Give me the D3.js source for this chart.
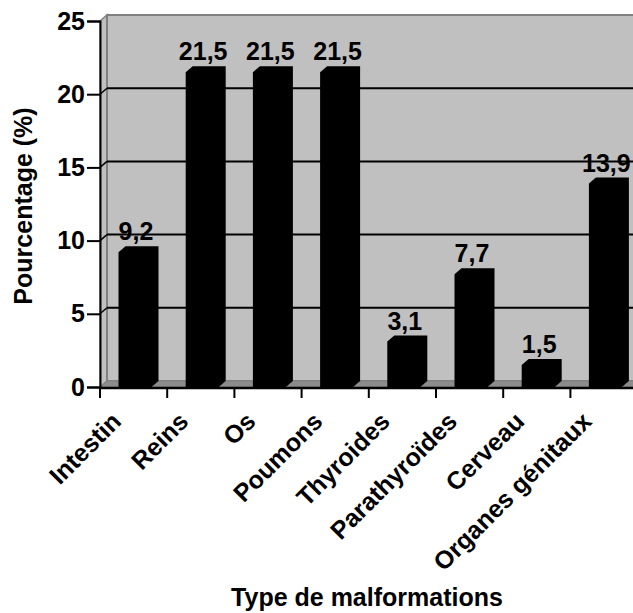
<!DOCTYPE html>
<html>
<head>
<meta charset="utf-8">
<script src="https://cdn.jsdelivr.net/npm/d3@7/dist/d3.min.js"></script>
<style>
  body { margin: 0; background: #fff; }
  text { font-family: "Liberation Sans", Arial, sans-serif; font-weight: bold; fill: #000; }
</style>
</head>
<body>
<svg id="chart" width="633" height="613"></svg>
<script>
// data
var categories = ["Intestin", "Reins", "Os", "Poumons", "Thyroides", "Parathyroïdes", "Cerveau", "Organes génitaux"];
var values = [9.2, 21.5, 21.5, 21.5, 3.1, 7.7, 1.5, 13.9];
var valueLabels = ["9,2", "21,5", "21,5", "21,5", "3,1", "7,7", "1,5", "13,9"];
var yTicks = [0, 5, 10, 15, 20, 25];

var svg = d3.select("#chart"),
    width = +svg.attr("width"),
    height = +svg.attr("height");

// depth offset of the fake 3d
var dx = 7, dy = 6;
var plotLeft = 100, plotBottom = 387, plotTop = 21;
var fs = 25;

var y = d3.scaleLinear().domain([0, 25]).range([plotBottom, plotTop]);
var x = d3.scaleBand().domain(categories).range([plotLeft, plotLeft + 8 * 67.2]).padding(0);

var barW = 33, barOff = 18.5;

// walls
var g = svg.append("g");
g.append("polygon")
  .attr("points", [[plotLeft, y(0)], [plotLeft + dx, y(0) - dy], [plotLeft + dx, y(25) - dy], [plotLeft, y(25)]].join(" "))
  .attr("fill", "#c0c0c0").attr("stroke", "#808080").attr("stroke-width", 1.5);
g.append("rect")
  .attr("x", plotLeft + dx).attr("y", y(25) - dy)
  .attr("width", width).attr("height", y(0) - y(25))
  .attr("fill", "#c0c0c0").attr("stroke", "#808080").attr("stroke-width", 2);
g.append("polygon")
  .attr("points", [[plotLeft, y(0)], [plotLeft + dx, y(0) - dy], [width + 10, y(0) - dy], [width + 10, y(0)]].join(" "))
  .attr("fill", "#8c8c8c").attr("stroke", "#808080").attr("stroke-width", 1);

// gridlines
yTicks.filter(function(d) { return d > 0 && d < 25; }).forEach(function(d) {
  g.append("line")
    .attr("x1", plotLeft + dx).attr("x2", width + 10)
    .attr("y1", y(d) - dy).attr("y2", y(d) - dy)
    .attr("stroke", "#000").attr("stroke-width", 2);
  g.append("line")
    .attr("x1", plotLeft).attr("x2", plotLeft + dx)
    .attr("y1", y(d)).attr("y2", y(d) - dy)
    .attr("stroke", "#000").attr("stroke-width", 1.5);
});

// bars (front + top + side, all black)
svg.append("g").selectAll("path")
  .data(values)
  .enter().append("path")
  .attr("d", function(d, i) {
    var x0 = x(categories[i]) + barOff, x1 = x0 + barW, yt = y(d), yb = y(0);
    return "M" + x0 + "," + yb + "L" + x0 + "," + yt + "L" + (x0 + dx) + "," + (yt - dy) +
      "L" + (x1 + dx) + "," + (yt - dy) + "L" + (x1 + dx) + "," + (yb - dy) + "L" + x1 + "," + yb + "Z";
  })
  .attr("fill", "#000");

// value labels
svg.append("g").selectAll("text")
  .data(values)
  .enter().append("text")
  .attr("x", function(d, i) { return x(categories[i]) + 36; })
  .attr("y", function(d) { return y(d) - 12; })
  .attr("text-anchor", "middle")
  .attr("font-size", fs)
  .text(function(d, i) { return valueLabels[i]; });

// y axis
var yAxis = svg.append("g")
  .attr("transform", "translate(" + plotLeft + ",0)")
  .call(d3.axisLeft(y).tickValues(yTicks).tickSize(13).tickPadding(2).tickFormat(d3.format("d")));
yAxis.select(".domain").attr("stroke", "#000").attr("stroke-width", 2);
yAxis.selectAll(".tick line").attr("stroke", "#000").attr("stroke-width", 2);
yAxis.selectAll(".tick text").attr("font-size", fs).attr("font-family", null).attr("fill", "#000");

// x axis
var xAxis = svg.append("g")
  .attr("transform", "translate(0," + (plotBottom + 1) + ")");
xAxis.append("line")
  .attr("x1", plotLeft).attr("x2", width + 10)
  .attr("stroke", "#000").attr("stroke-width", 2.5);
xAxis.selectAll(".tk")
  .data(categories)
  .enter().append("line")
  .attr("x1", function(d) { return x(d); }).attr("x2", function(d) { return x(d); })
  .attr("y1", 0).attr("y2", 10)
  .attr("stroke", "#000").attr("stroke-width", 2);
xAxis.selectAll(".cat")
  .data(categories)
  .enter().append("text")
  .attr("text-anchor", "end")
  .attr("font-size", fs)
  .attr("transform", function(d) {
    return "translate(" + (x(d) + x.bandwidth() / 2 - 11) + ",35) rotate(-45)";
  })
  .text(function(d) { return d; });

// axis titles
svg.append("text")
  .attr("transform", "translate(32,206) rotate(-90)")
  .attr("text-anchor", "middle")
  .attr("font-size", fs)
  .text("Pourcentage (%)");
svg.append("text")
  .attr("x", 367).attr("y", 606)
  .attr("text-anchor", "middle")
  .attr("font-size", fs)
  .text("Type de malformations");
</script>
</body>
</html>
